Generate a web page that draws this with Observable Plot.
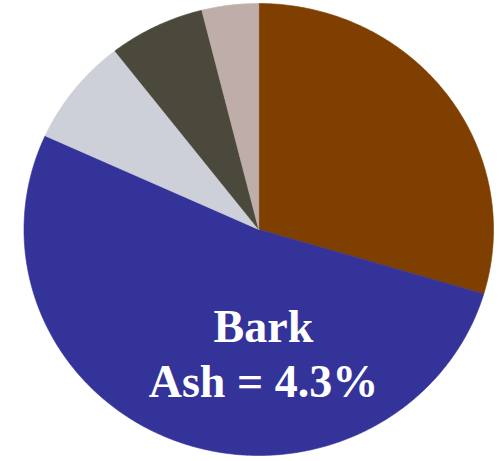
<!DOCTYPE html>
<html>
<head>
<meta charset="utf-8">
<script src="https://cdn.jsdelivr.net/npm/d3@7"></script>
<script src="https://cdn.jsdelivr.net/npm/@observablehq/plot@0.6"></script>
<style>
  html, body { margin: 0; padding: 0; background: #fff; }
  #chart svg { display: block; }
</style>
</head>
<body>
<div id="chart"></div>
<script>
// Slices, clockwise from 12 o'clock
const categories = ["Component 1", "Component 2", "Component 3", "Component 4", "Component 5"];
const values = [29.6, 52.2, 7.7, 6.6, 3.9];
const colors = ["#7F3F00", "#343399", "#CDD0D8", "#4B483C", "#BEADA9"];
const labelLines = ["Bark", "Ash = 4.3%"];

const arcs = d3.pie().sort(null).value(d => d)(values);

// Build outline polygons for each slice on the unit circle
const polys = arcs.map((a, i) => {
  const pts = [{x: 0, y: 0}];
  const span = a.endAngle - a.startAngle;
  const n = Math.max(2, Math.ceil(span / (Math.PI / 360)));
  for (let k = 0; k <= n; k++) {
    const t = a.startAngle + span * k / n;
    pts.push({x: Math.sin(t), y: Math.cos(t)});
  }
  pts.push({x: 0, y: 0});
  return {name: categories[i], color: colors[i], pts};
});

const chart = Plot.plot({
  width: 499,
  height: 461,
  marginLeft: 23.5,
  marginRight: 6,
  marginTop: 3,
  marginBottom: 6,
  x: {domain: [-1, 1], axis: null},
  y: {domain: [-1, 1], axis: null},
  style: {background: "#ffffff"},
  marks: [
    ...polys.map(p => Plot.line(p.pts, {
      x: "x", y: "y",
      fill: p.color, stroke: p.color, strokeWidth: 0.6,
      curve: "linear"
    })),
    Plot.text([labelLines.join("\n")], {
      x: () => 0.02,
      y: () => -0.742,
      text: d => d,
      fill: "white",
      fontFamily: "'Liberation Serif', 'Times New Roman', serif",
      fontWeight: "bold",
      fontSize: 46,
      lineHeight: 1.196,
      textAnchor: "middle",
      lineAnchor: "bottom"
    })
  ]
});

document.getElementById("chart").appendChild(chart);
</script>
</body>
</html>
